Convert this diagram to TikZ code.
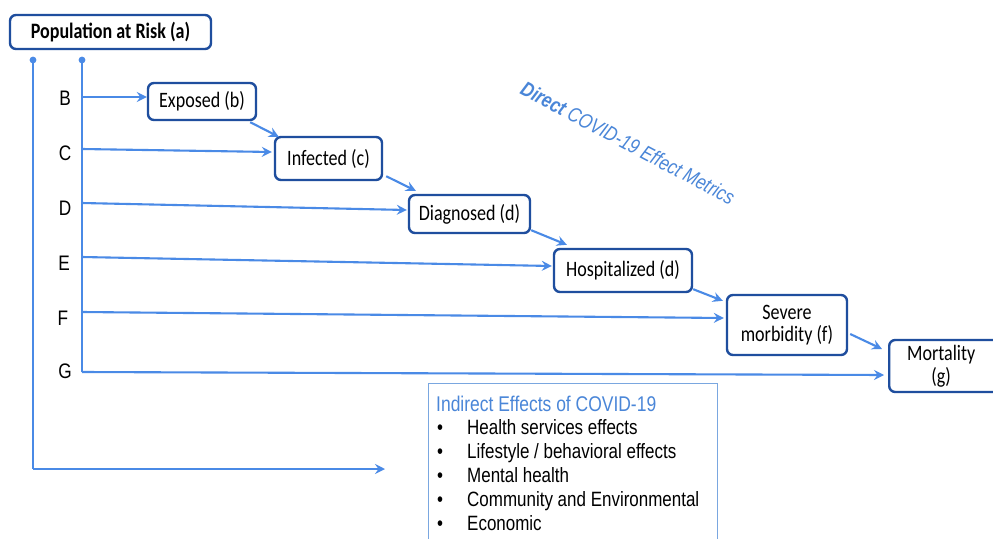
\documentclass[tikz,border=0pt]{standalone}
\usepackage{fontspec}
\setmainfont[FakeStretch=0.82]{Carlito}
\newfontfamily\arialf[FakeStretch=0.82]{Liberation Sans}
\usetikzlibrary{arrows.meta}
\definecolor{arr}{HTML}{4A8AE6}
\definecolor{bord}{HTML}{1F4E9E}
\definecolor{indb}{HTML}{7AA7E0}
\definecolor{tblue}{HTML}{4A86D8}
\begin{document}
\begin{tikzpicture}[x=1pt,y=-1pt,
  box/.style={draw=bord, line width=2.4pt, rounded corners=6pt, fill=white, align=center,
    font=\fontsize{22}{22}\selectfont, inner sep=0pt},
  wire/.style={draw=arr, line width=2.1pt},
  conn/.style={draw=arr, line width=2.1pt, -{Stealth[length=10pt,width=10pt,inset=3.5pt]}},
  lab/.style={font=\arialf\fontsize{21}{21}\selectfont},
  item/.style={font=\arialf\fontsize{20.7}{20.7}\selectfont, anchor=base west, inner sep=0pt}]
\useasboundingbox (0,0) rectangle (993,538);
\fill[white] (0,0) rectangle (993,538);

% boxes
\node[box, font=\bfseries\fontsize{22}{22}\selectfont, minimum width=201, minimum height=34] (pop) at (110.5,32) {Population at Risk (a)};
\node[box, minimum width=108, minimum height=37] (exp) at (202,101.5) {Exposed (b)};
\node[box, minimum width=107, minimum height=43] (inf) at (328.5,158.5) {Infected (c)};
\node[box, minimum width=121, minimum height=38] (dia) at (469.5,214) {Diagnosed (d)};
\node[box, minimum width=138, minimum height=43] (hos) at (623,270.5) {Hospitalized (d)};
\node[box, minimum width=120, minimum height=60] (sev) at (787,325) {Severe\\morbidity (f)};
\node[box, minimum width=110, minimum height=52, anchor=west, font=\fontsize{22}{23}\selectfont] (mor) at (888,366) {\hspace*{-6pt}Mortality\\\hspace*{-6pt}(g)};

% trunk coordinates
\coordinate (d1) at (33,60);
\coordinate (d2) at (82,60);
\coordinate (bot) at (33,469);
\coordinate (ie) at (385,469);
\coordinate (cb) at (82,97);
\coordinate (cc) at (82,149);
\coordinate (cd) at (82,203);
\coordinate (ce) at (82,257);
\coordinate (cf) at (82,312);
\coordinate (cg) at (82,372);

\fill[arr] (d1) circle (3.4);
\fill[arr] (d2) circle (3.4);
\draw[wire] (d1) -- (bot);
\draw[conn] (bot) -- (ie);
\draw[wire] (d2) -- (cg);

% letter labels
\node[lab] (lb) at (65,98) {B};
\node[lab] (lc) at (65,153) {C};
\node[lab] (ld) at (65,208) {D};
\node[lab] (le) at (64,263) {E};
\node[lab] (lf) at (63,318) {F};
\node[lab] (lg) at (65,371) {G};

% horizontal arrows
\draw[conn] (cb) -- (exp.west |- cb);
\draw[conn] (cc) -- ([shift={(-2pt,6.5pt)}]inf.west);
\draw[conn] (cd) -- ([shift={(-1pt,4pt)}]dia.west);
\draw[conn] (ce) -- ([shift={(-1pt,4.5pt)}]hos.west);
\draw[conn] (cf) -- ([shift={(-2pt,7pt)}]sev.west);
\draw[conn] (cg) -- ([shift={(-4pt,-9pt)}]mor.west);

% diagonal arrows
\draw[conn] ([shift={(-7pt,-1pt)}]exp.south east) -- ([shift={(5pt,-1pt)}]inf.north west);
\draw[conn] ([shift={(3pt,5pt)}]inf.south east) -- ([shift={(8pt,3pt)}]dia.north west);
\draw[conn] ([shift={(0pt,4pt)}]dia.south east) -- ([shift={(14pt,3pt)}]hos.north west);
\draw[conn] ([shift={(0pt,4pt)}]hos.south east) -- ([shift={(-3pt,-7pt)}]sev.north west);
\draw[conn] ([shift={(2pt,-9pt)}]sev.east) -- ([shift={(-6pt,17pt)}]mor.west);

% direct label
\node[rotate=-28, text=tblue, font=\arialf\itshape\fontsize{20.7}{20.7}\selectfont] (direct) at (628,143) {\textbf{Direct} COVID-19 Effect Metrics};

% indirect box
\node[draw=indb, line width=1.1pt, minimum width=289, minimum height=170, anchor=north west, inner sep=0pt] (indbox) at (428,383) {};
\node[item, text=tblue, font=\arialf\fontsize{21.3}{21.3}\selectfont] (ttl) at (436,411) {Indirect Effects of COVID-19};
\foreach \y/\t [count=\i] in {434/{Health services effects}, 458/{Lifestyle / behavioral effects}, 482/{Mental health}, 506/{Community and Environmental}, 530/{Economic}}{
  \node[item] (bu\i) at (437,\y) {•};
  \node[item] (it\i) at (467,\y) {\t};
}
\end{tikzpicture}
\end{document}
